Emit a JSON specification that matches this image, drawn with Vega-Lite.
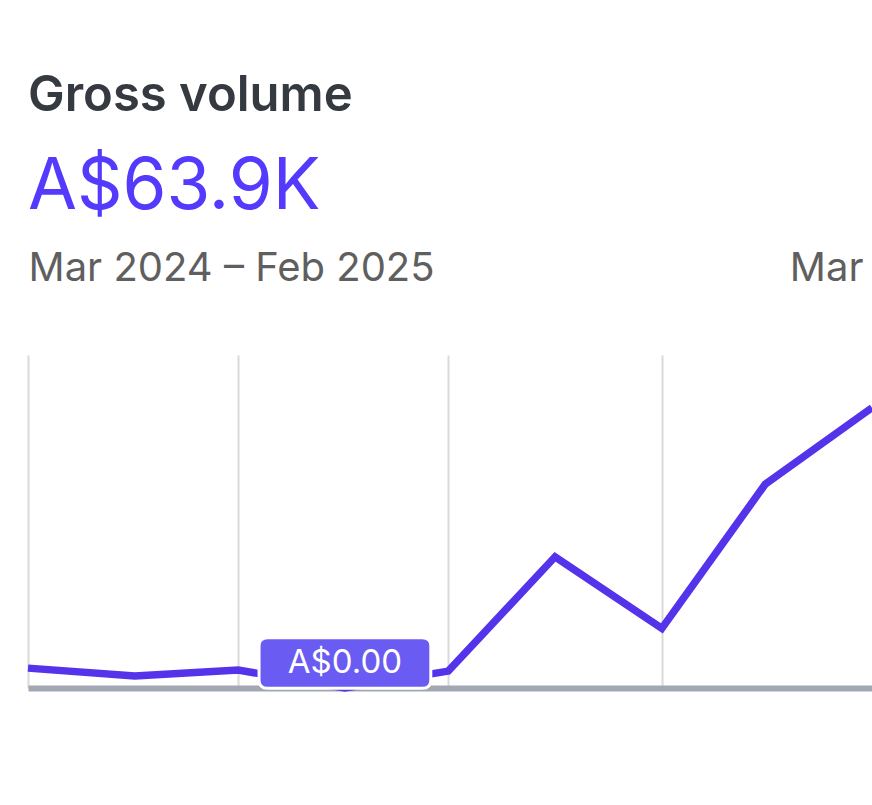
{
  "$schema": "https://vega.github.io/schema/vega-lite/v6.json",
  "width": 844,
  "height": 333,
  "autosize": {"type": "none"},
  "padding": {"left": 28, "top": 355, "right": 0, "bottom": 117},
  "background": "#ffffff",
  "config": {"view": {"stroke": null}, "font": "Inter"},
  "title": {
    "text": "Gross volume",
    "subtitle": "A$63.9K",
    "anchor": "start",
    "frame": "group",
    "font": "Inter",
    "fontSize": 49,
    "fontWeight": 600,
    "color": "#353a40",
    "subtitleFont": "Inter",
    "subtitleFontSize": 71,
    "subtitleFontWeight": 400,
    "subtitleColor": "#533afd",
    "subtitlePadding": 32,
    "offset": 25
  },
  "datasets": {
    "volume": [
      {"month": "2024-03-01", "volume": 716},
      {"month": "2024-04-01", "volume": 430},
      {"month": "2024-05-01", "volume": 645},
      {"month": "2024-06-01", "volume": 0},
      {"month": "2024-07-01", "volume": 609},
      {"month": "2024-08-01", "volume": 4728},
      {"month": "2024-09-01", "volume": 2149},
      {"month": "2024-10-01", "volume": 7343},
      {"month": "2024-11-01", "volume": 10101}
    ],
    "tip": [
      {"month": "2024-06-01", "volume": 0, "label": "A$0.00"}
    ]
  },
  "resolve": {"axis": {"x": "independent"}},
  "layer": [
    {
      "data": {"name": "volume"},
      "mark": {"type": "line", "color": "#5433eb", "strokeWidth": 7.5, "strokeJoin": "miter"},
      "encoding": {
        "x": {
          "field": "month",
          "type": "temporal",
          "scale": {
            "type": "utc",
            "domain": [
              {"year": 2024, "month": 3, "date": 1, "utc": true},
              {"year": 2024, "month": 11, "date": 1, "utc": true}
            ]
          },
          "axis": {
            "orient": "bottom",
            "values": [
              {"year": 2024, "month": 3, "date": 1, "utc": true},
              {"year": 2024, "month": 5, "date": 1, "utc": true},
              {"year": 2024, "month": 7, "date": 1, "utc": true},
              {"year": 2024, "month": 9, "date": 1, "utc": true}
            ],
            "grid": true,
            "gridColor": "#dadada",
            "gridWidth": 2,
            "labels": false,
            "ticks": false,
            "domain": true,
            "domainColor": "#a2a7b4",
            "domainWidth": 6,
            "title": null
          }
        },
        "y": {
          "field": "volume",
          "type": "quantitative",
          "scale": {"domain": [0, 12000], "nice": false},
          "axis": null
        }
      }
    },
    {
      "data": {"name": "tip"},
      "mark": {
        "type": "point",
        "shape": "M-0.9,-0.294 L0.9,-0.294 Q1,-0.294 1,-0.2 L1,0.2 Q1,0.294 0.9,0.294 L-0.9,0.294 Q-1,0.294 -1,0.2 L-1,-0.2 Q-1,-0.294 -0.9,-0.294 Z",
        "size": 29500,
        "filled": true,
        "fill": "#6a5cf2",
        "stroke": "#ffffff",
        "strokeWidth": 3,
        "opacity": 1,
        "yOffset": -25
      },
      "encoding": {
        "x": {
          "field": "month",
          "type": "temporal",
          "axis": {
            "orient": "top",
            "values": [
              {"year": 2024, "month": 3, "date": 1, "utc": true},
              {"year": 2024, "month": 10, "date": 8, "utc": true}
            ],
            "labelExpr": "datum.index == 0 ? 'Mar 2024 – Feb 2025' : 'Mar'",
            "labelAlign": "left",
            "labelBaseline": "alphabetic",
            "labelPadding": 75,
            "tickSize": 0,
            "ticks": false,
            "domain": false,
            "grid": false,
            "labelFont": "Inter",
            "labelFontSize": 40,
            "labelColor": "#5f5f5f",
            "labelLimit": 0,
            "labelOverlap": false,
            "labelFlush": false,
            "labelBound": false,
            "title": null
          }
        },
        "y": {"field": "volume", "type": "quantitative", "axis": null}
      }
    },
    {
      "data": {"name": "tip"},
      "mark": {
        "type": "text",
        "color": "#ffffff",
        "font": "Inter",
        "fontSize": 33,
        "fontWeight": 400,
        "align": "center",
        "baseline": "middle",
        "yOffset": -25
      },
      "encoding": {
        "x": {"field": "month", "type": "temporal", "axis": null},
        "y": {"field": "volume", "type": "quantitative", "axis": null},
        "text": {"field": "label"}
      }
    }
  ]
}
